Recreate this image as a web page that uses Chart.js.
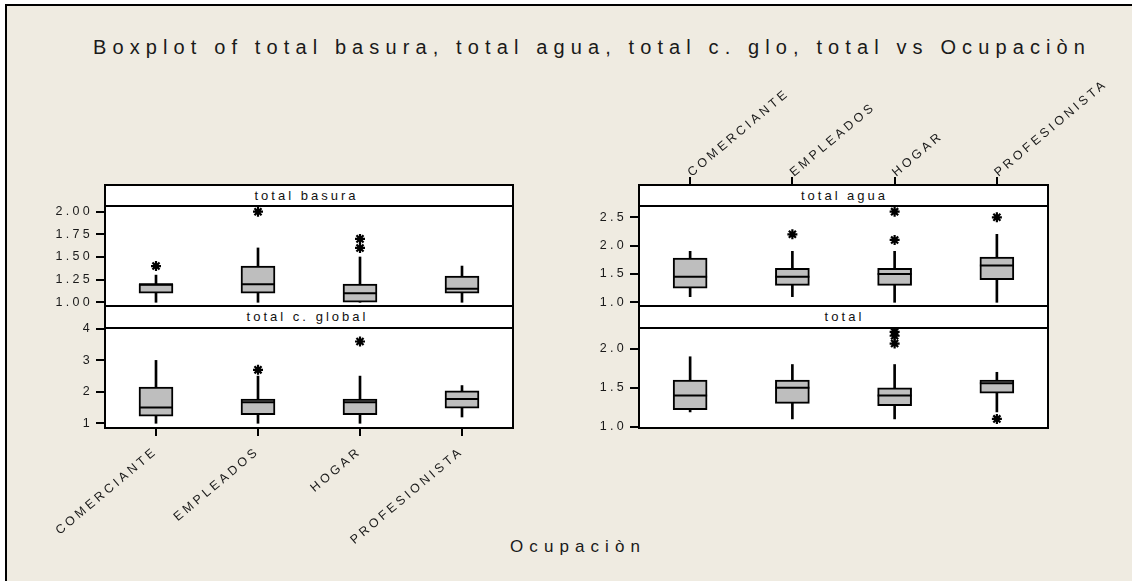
<!DOCTYPE html>
<html lang="es">
<head>
    <meta charset="UTF-8">
    <title>Boxplot vs Ocupaciòn</title>
    <script src="https://cdn.jsdelivr.net/npm/chart.js"></script>
    <style>
        html, body { overflow: hidden; }
        body {
            margin: 0;
            width: 1132px;
            height: 581px;
            background: #fff;
            position: relative;
            font-family: "Liberation Sans", Arial, sans-serif;
            color: #1a1a1a;
        }
        .panel {
            position: absolute;
            left: 5px;
            top: 4px;
            width: 1127px;
            height: 577px;
            background: #efebe1;
            border-left: 2px solid #000;
            border-top: 2px solid #000;
            box-sizing: border-box;
        }
        .edge {
            position: absolute;
            left: 1120px;
            top: 6px;
            width: 12px;
            height: 575px;
            background: #efebe1;
            z-index: 5;
        }
        .frame {
            position: absolute;
            top: 184px;
            height: 245px;
            background: #fff;
            border: 2px solid #000;
            box-sizing: border-box;
        }
        .rule { position: absolute; height: 2px; background: #000; }
        .label { position: absolute; white-space: nowrap; transform: translateX(-50%); }
        .strip { font-size: 13px; line-height: 15px; color: #111; }
        .chart-box { position: absolute; }
    </style>
</head>
<body>
    <div class="panel"></div>
    <div class="edge"></div>
    <div class="label" id="title" style="left:589px; top:36px; font-size:20px; line-height:22px;">Boxplot of total basura, total agua, total c. glo, total vs Ocupaciòn</div>

    <!-- left column frame + strips -->
    <div class="frame" style="left:104px; width:410px;"></div>
    <div class="rule" style="left:104px; width:410px; top:205px;"></div>
    <div class="rule" style="left:104px; width:410px; top:305px;"></div>
    <div class="rule" style="left:104px; width:410px; top:327px;"></div>
    <div class="label strip" id="s1" style="left:305px; top:188px;">total basura</div>
    <div class="label strip" id="s2" style="left:306px; top:309px;">total c. global</div>

    <!-- right column frame + strips -->
    <div class="frame" style="left:638px; width:411px;"></div>
    <div class="rule" style="left:638px; width:411px; top:205px;"></div>
    <div class="rule" style="left:638px; width:411px; top:305px;"></div>
    <div class="rule" style="left:638px; width:411px; top:327px;"></div>
    <div class="label strip" id="s3" style="left:843px; top:188px;">total agua</div>
    <div class="label strip" id="s4" style="left:843px; top:309px;">total</div>

    <div class="label" id="xtitle" style="left:575px; top:537px; font-size:17px; line-height:19px;">Ocupaciòn</div>

    <div class="chart-box" style="left:0; top:194px; width:513px; height:124px;"><canvas id="basuraChart"></canvas></div>
    <div class="chart-box" style="left:0; top:316px; width:513px; height:242px;"><canvas id="globalChart"></canvas></div>
    <div class="chart-box" style="left:530px; top:55px; width:608px; height:263px;"><canvas id="aguaChart"></canvas></div>
    <div class="chart-box" style="left:530px; top:316px; width:518px; height:124px;"><canvas id="totalChart"></canvas></div>

    <script>
        const categories = ['COMERCIANTE', 'EMPLEADOS', 'HOGAR', 'PROFESIONISTA'];

        // total basura
        const basuraMin = [1.0, 1.0, 1.0, 1.0];
        const basuraQ1 = [1.1, 1.1, 1.0, 1.1];
        const basuraMed = [1.2, 1.2, 1.1, 1.15];
        const basuraQ3 = [1.2, 1.4, 1.2, 1.29];
        const basuraMax = [1.3, 1.6, 1.5, 1.4];
        const basuraOut = [[1.4], [2.0], [1.7, 1.6], []];
        const basuraTicks = [1.0, 1.25, 1.5, 1.75, 2.0];

        // total c. global
        const globalMin = [1.0, 1.0, 1.0, 1.2];
        const globalQ1 = [1.23, 1.27, 1.27, 1.48];
        const globalMed = [1.5, 1.67, 1.67, 1.77];
        const globalQ3 = [2.15, 1.77, 1.77, 2.03];
        const globalMax = [3.0, 2.5, 2.5, 2.2];
        const globalOut = [[], [2.7], [3.6], []];
        const globalTicks = [1, 2, 3, 4];

        // total agua
        const aguaMin = [1.1, 1.1, 1.0, 1.0];
        const aguaQ1 = [1.25, 1.3, 1.3, 1.4];
        const aguaMed = [1.45, 1.45, 1.5, 1.65];
        const aguaQ3 = [1.78, 1.6, 1.6, 1.8];
        const aguaMax = [1.9, 1.9, 1.9, 2.2];
        const aguaOut = [[], [2.2], [2.1, 2.6], [2.5]];
        const aguaTicks = [1.0, 1.5, 2.0, 2.5];

        // total
        const totalMin = [1.19, 1.1, 1.1, 1.19];
        const totalQ1 = [1.22, 1.3, 1.27, 1.43];
        const totalMed = [1.4, 1.5, 1.4, 1.56];
        const totalQ3 = [1.6, 1.6, 1.5, 1.6];
        const totalMax = [1.9, 1.8, 1.8, 1.7];
        const totalOut = [[], [], [2.22, 2.17, 2.07], [1.1]];
        const totalTicks = [1.0, 1.5, 2.0];

        const tickFont = { family: 'Liberation Sans', size: 12.5 };
        const catFont = { family: 'Liberation Sans', size: 12.5 };

        // spread letters a bit like the original
        const letterSpacing = {
            id: 'letterSpacing',
            beforeLayout(chart) { chart.ctx.letterSpacing = '3.3px'; },
            beforeDraw(chart) { chart.ctx.letterSpacing = '3.3px'; }
        };

        function boxDatasets(lo, q1, med, q3, hi, outs) {
            const outPoints = [];
            outs.forEach((vals, i) => vals.forEach(v => outPoints.push({ x: categories[i], y: v })));
            return [
                {   // whiskers
                    type: 'bar',
                    data: lo.map((v, i) => [v, hi[i]]),
                    backgroundColor: '#000',
                    barThickness: 2,
                    grouped: false,
                    order: 3
                },
                {   // boxes
                    type: 'bar',
                    data: q1.map((v, i) => [v, q3[i]]),
                    backgroundColor: '#bebebe',
                    borderColor: '#000',
                    borderWidth: 2,
                    borderSkipped: false,
                    barThickness: 34,
                    grouped: false,
                    order: 2
                },
                {   // medians
                    type: 'line',
                    data: med,
                    showLine: false,
                    pointStyle: 'line',
                    pointRadius: 17,
                    pointBorderColor: '#000',
                    pointBorderWidth: 2,
                    order: 1
                },
                {   // outliers
                    type: 'line',
                    data: outPoints,
                    showLine: false,
                    pointStyle: 'star',
                    pointRadius: 5,
                    pointBorderColor: '#000',
                    pointBorderWidth: 2.2,
                    clip: false,
                    order: 0
                }
            ];
        }

        function yScale(min, max, ticks, decimals, width) {
            return {
                type: 'linear',
                min: min,
                max: max,
                afterBuildTicks: s => { s.ticks = ticks.map(v => ({ value: v })); },
                afterFit: s => { s.width = width; },
                ticks: { font: tickFont, color: '#1a1a1a', padding: 3, callback: v => Number(v).toFixed(decimals) },
                grid: { drawOnChartArea: false, drawTicks: true, tickLength: 9, tickWidth: 2, tickColor: '#000', lineWidth: 2, color: '#000' },
                border: { display: false }
            };
        }

        function xScale(display, position) {
            const top = position === 'top';
            return {
                type: 'category',
                display: display,
                position: position,
                offset: true,
                afterFit: s => { if (display) s.height = 130; },
                ticks: {
                    autoSkip: false, minRotation: 40, maxRotation: 40,
                    font: catFont, color: '#1a1a1a',
                    padding: top ? -3 : 8,
                    labelOffset: top ? 9 : 0
                },
                grid: { offset: false, drawOnChartArea: false, drawTicks: true, tickLength: 8, tickWidth: 2, tickColor: '#000', lineWidth: 2, color: '#000' },
                border: { display: false }
            };
        }

        function makeChart(id, datasets, x, y, padding) {
            return new Chart(document.getElementById(id), {
                type: 'bar',
                data: { labels: categories, datasets: datasets },
                options: {
                    responsive: true,
                    maintainAspectRatio: false,
                    animation: false,
                    events: [],
                    layout: { padding: padding, autoPadding: false },
                    plugins: { legend: { display: false }, tooltip: { enabled: false } },
                    scales: { x: x, y: y }
                },
                plugins: [letterSpacing]
            });
        }

        makeChart('basuraChart',
            boxDatasets(basuraMin, basuraQ1, basuraMed, basuraQ3, basuraMax, basuraOut),
            xScale(false, 'bottom'), yScale(0.959, 2.063, basuraTicks, 2, 105),
            { top: 12, bottom: 12, left: 0, right: 0 });

        makeChart('globalChart',
            boxDatasets(globalMin, globalQ1, globalMed, globalQ3, globalMax, globalOut),
            xScale(true, 'bottom'), yScale(0.85, 4.03, globalTicks, 0, 105),
            { top: 12, bottom: 0, left: 0, right: 0 });

        makeChart('aguaChart',
            boxDatasets(aguaMin, aguaQ1, aguaMed, aguaQ3, aguaMax, aguaOut),
            xScale(true, 'top'), yScale(0.935, 3.07, aguaTicks, 1, 109),
            { top: 0, bottom: 12, left: 0, right: 90 });

        makeChart('totalChart',
            boxDatasets(totalMin, totalQ1, totalMed, totalQ3, totalMax, totalOut),
            xScale(false, 'bottom'), yScale(0.983, 2.27, totalTicks, 1, 109),
            { top: 12, bottom: 12, left: 0, right: 0 });

        // stretch the html texts to the widths of the original
        function fitText(id, target) {
            const el = document.getElementById(id);
            const n = el.textContent.length;
            el.style.letterSpacing = '0px';
            const w = el.getBoundingClientRect().width;
            const s = Math.max(0, (target - w) / (n - 1));
            el.style.letterSpacing = s + 'px';
            el.style.paddingLeft = s + 'px';
        }
        fitText('title', 992);
        fitText('s1', 101);
        fitText('s2', 119);
        fitText('s3', 84);
        fitText('s4', 37);
        fitText('xtitle', 130);
    </script>
</body>
</html>
